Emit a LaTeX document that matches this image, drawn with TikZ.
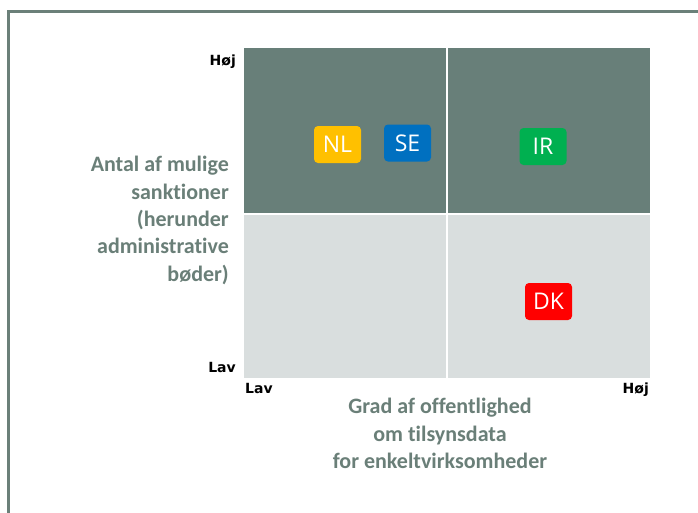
\documentclass[tikz,border=0pt]{standalone}
\usepackage{fontspec}
\setmainfont{Carlito}[Ligatures=NoCommon]
\newfontfamily\axisfont{DejaVu Sans}
\newfontfamily\tagfont{Open Sans}
\definecolor{frame}{HTML}{6B8079}
\definecolor{darkq}{HTML}{687F79}
\definecolor{lightq}{HTML}{D9DEDE}
\definecolor{labelc}{HTML}{6A7F78}
\definecolor{nlc}{HTML}{FFC000}
\definecolor{sec}{HTML}{0070C0}
\definecolor{irc}{HTML}{00B050}
\definecolor{dkc}{HTML}{FF0000}
\begin{document}
\begin{tikzpicture}[x=1pt,y=-1pt,
  quad/.style={draw=none,inner sep=0pt,anchor=north west},
  tag/.style={rounded corners=4pt,minimum width=47pt,minimum height=37pt,inner sep=0pt,
    text=white,font=\tagfont\fontsize{23}{23}\selectfont},
  axislab/.style={inner sep=0pt,font=\axisfont\bfseries\fontsize{14}{14}\selectfont,text=black},
  bigtext/.style={inner sep=0pt,text=labelc,font=\bfseries\fontsize{22}{27.4}\selectfont}]
\useasboundingbox (0,0) rectangle (698,512);
\fill[white] (0,0) rectangle (698,512);
% frame
\draw[frame,line width=3.3pt] (8.5,515) -- (8.5,11.5) -- (702,11.5);
% quadrants
\node[quad,fill=darkq,minimum width=202pt,minimum height=165pt] (tl) at (244,48) {};
\node[quad,fill=darkq,minimum width=202pt,minimum height=165pt] (tr) at (448,48) {};
\node[quad,fill=lightq,minimum width=202pt,minimum height=163pt] (bl) at (244,215) {};
\node[quad,fill=lightq,minimum width=202pt,minimum height=163pt] (br) at (448,215) {};
% tags
\node[tag,fill=nlc] (nl) at (337.5,144.5) {NL};
\node[tag,fill=sec] (se) at (407.5,143) {SE};
\node[tag,fill=irc] (ir) at (543,146.5) {IR};
\node[tag,fill=dkc] (dk) at (548.5,301.5) {DK};
% axis labels
\node[axislab,anchor=base east] (yhigh) at (236,65) {Høj};
\node[axislab,anchor=base east] (ylow) at (236,372) {Lav};
\node[axislab,anchor=base west] (xlow) at (245,393) {Lav};
\node[axislab,anchor=base east] (xhigh) at (649,393) {Høj};
% axis titles
\node[bigtext,align=right,anchor=north east] (ytitle) at (229,156) {Antal af mulige\\sanktioner\\(herunder\\administrative\\bøder)};
\node[bigtext,align=center,anchor=north] (xtitle) at (440,398) {Grad af offentlighed\\om tilsynsdata\\for enkeltvirksomheder};
\end{tikzpicture}
\end{document}
